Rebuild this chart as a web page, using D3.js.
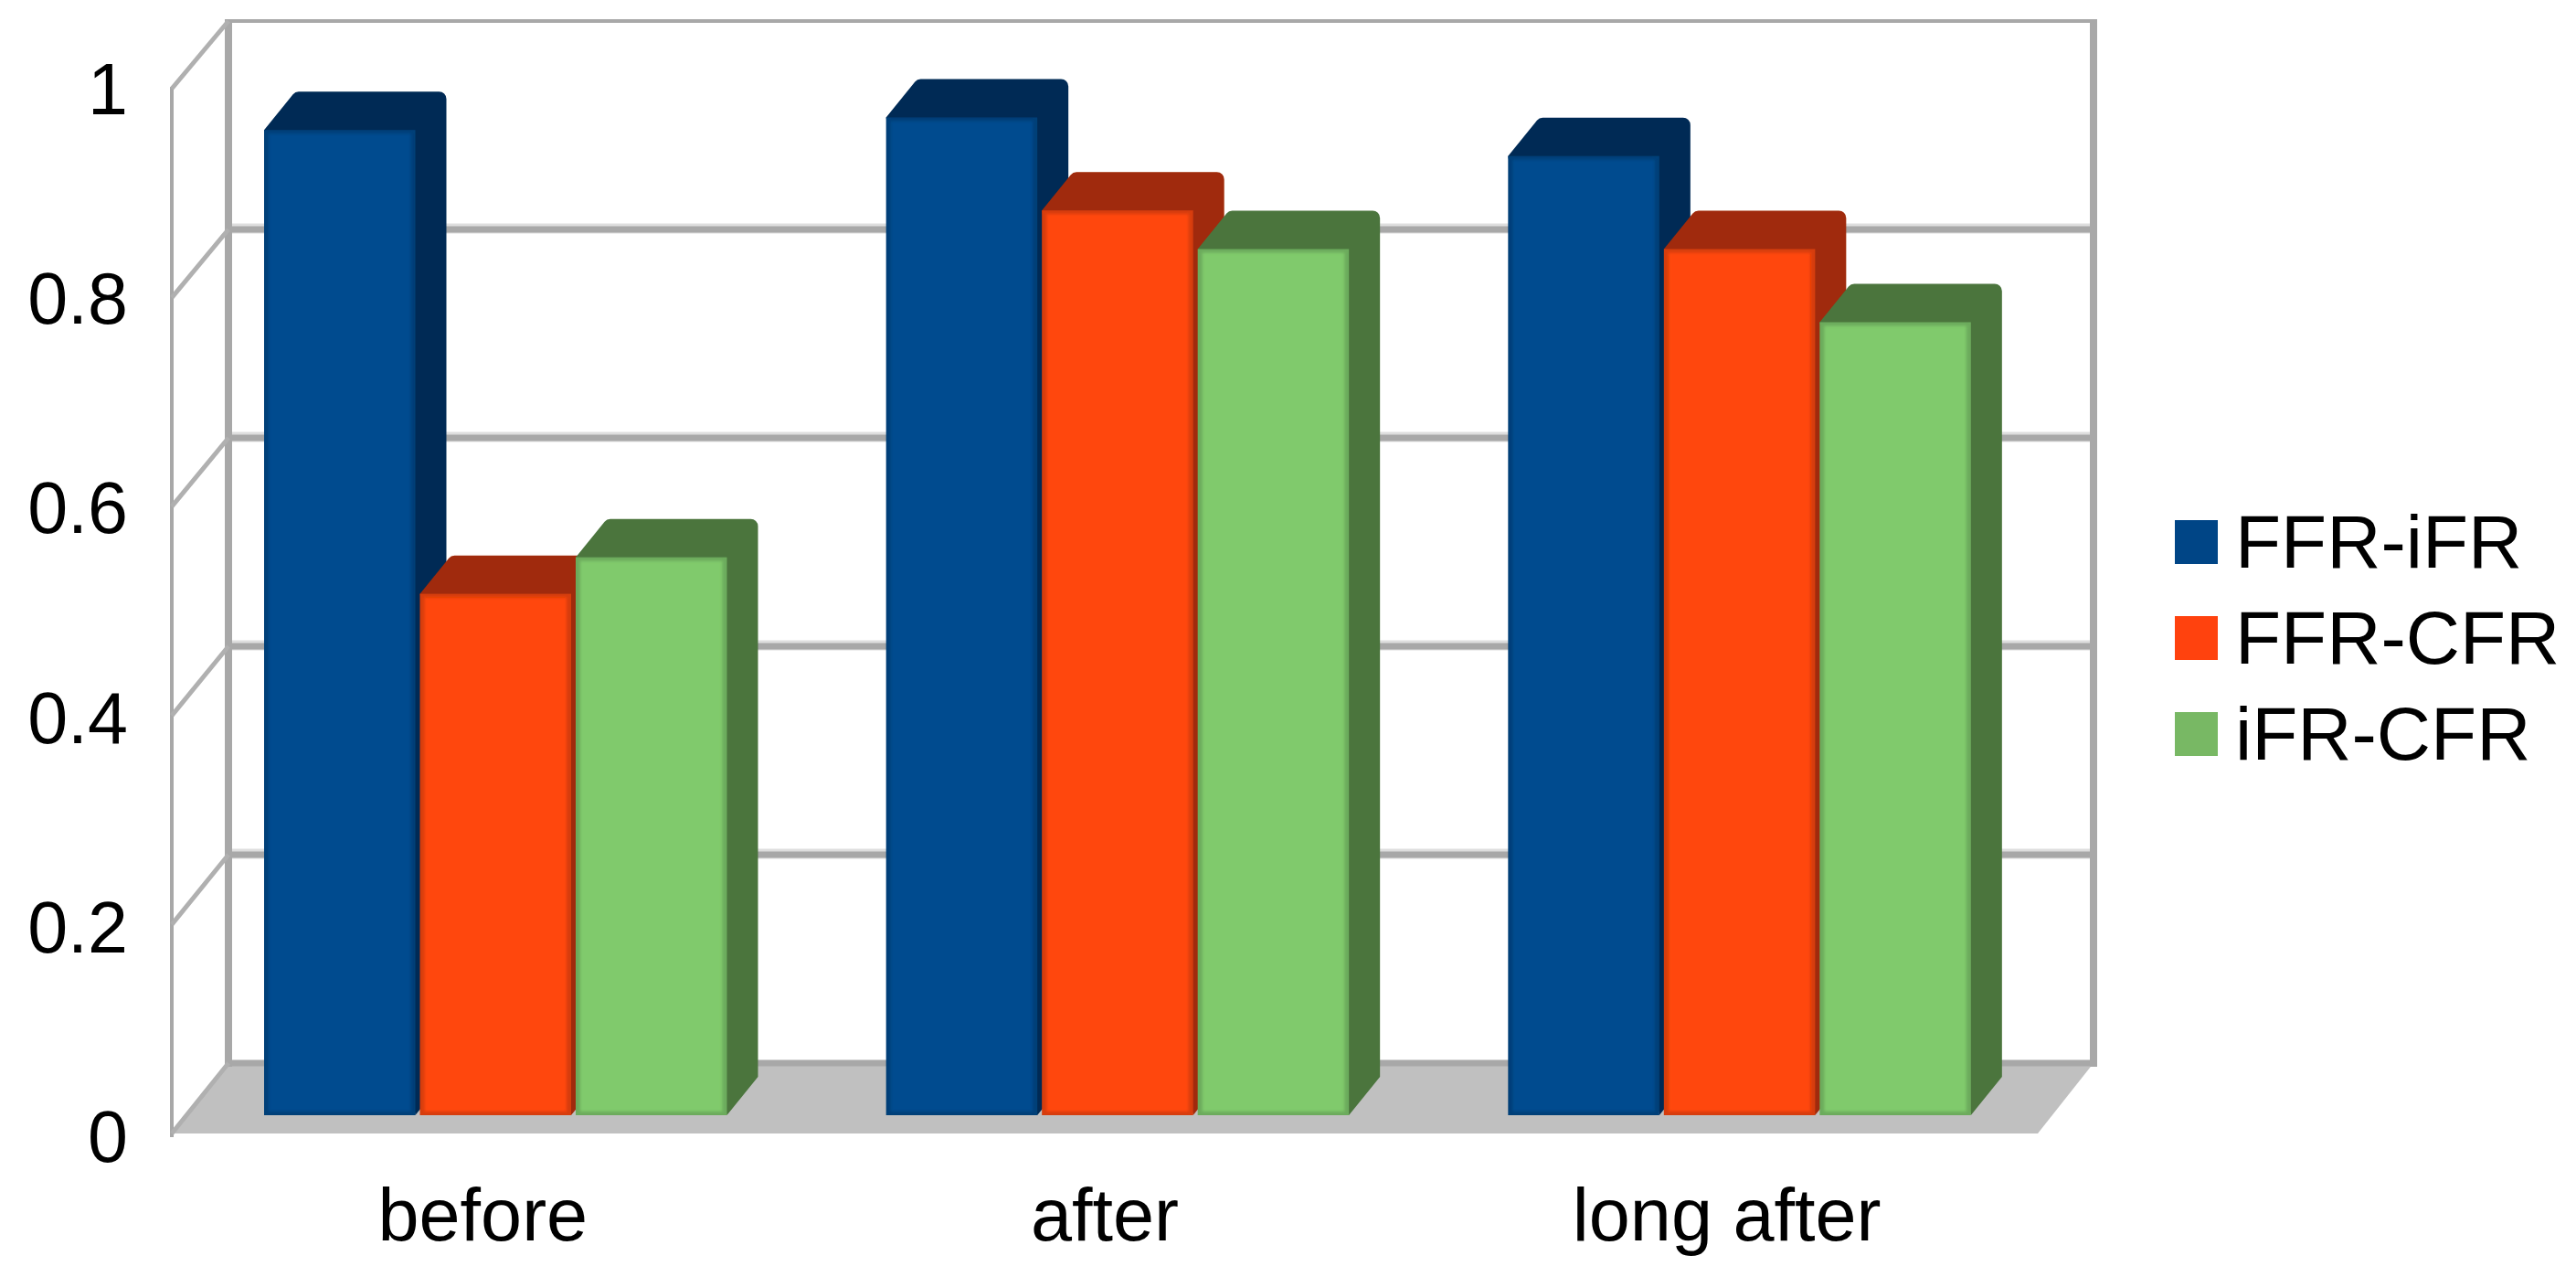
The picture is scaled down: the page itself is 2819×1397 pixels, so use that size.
<!DOCTYPE html>
<html>
<head>
<meta charset="utf-8">
<script src="https://cdn.jsdelivr.net/npm/d3@7/dist/d3.min.js"></script>
<style>
html,body{margin:0;padding:0;background:#fff;}
svg{display:block;}
text{font-family:"Liberation Sans",Arial,sans-serif;fill:#000;}
</style>
</head>
<body>
<script>
// Data
const categories = ["before", "after", "long after"];
const seriesNames = ["FFR-iFR", "FFR-CFR", "iFR-CFR"];
const ffrIfr = [0.943, 0.955, 0.918];
const ffrCfr = [0.499, 0.866, 0.829];
const ifrCfr = [0.534, 0.829, 0.759];
const yTicks = [0, 0.2, 0.4, 0.6, 0.8, 1];

const seriesValues = [ffrIfr, ffrCfr, ifrCfr];

// Styles
const faceColors = ["#004b8f", "#ff470f", "#80ca6c"];
const edgeColors = ["#003f78", "#d63d0b", "#6cab5c"];
const darkColors = ["#002b55", "#a02a08", "#4b753e"];
const swatchColors = ["#004586", "#ff420e", "#78b864"];
const gridColor = "#a8a8a8";

const W = 2819, H = 1397;
const svg = d3.select("body").append("svg").attr("width", W).attr("height", H);

const defs = svg.append("defs");
[["soft", 0.7], ["softer", 1.6]].forEach(([id, sd]) => {
  defs.append("filter").attr("id", id)
    .attr("filterUnits", "userSpaceOnUse")
    .attr("x", 0).attr("y", 0).attr("width", W).attr("height", H)
    .append("feGaussianBlur").attr("stdDeviation", sd);
});

// Scales: front plane of the box, back wall, and the plane of the bar faces
const xBand = d3.scaleBand().domain(categories).range([188, 2230]);
const xBar = d3.scaleBand().domain(seriesNames).range([101, 612.5]);
const yFront = d3.scaleLinear().domain([0, 1]).range([1240, 97]);
const yBack = d3.scaleLinear().domain([0, 1]).range([1163, 23]);
const yBar = d3.scaleLinear().domain([0, 1]).range([1220, 77]);
const yLabel = d3.scaleLinear().domain([0, 1]).range([1271, 125]);

const frontLeft = 188, backLeft = 250, backRight = 2291, frontRight = 2230;
const depthX = 34, depthY = 42, barGap = 5, cornerR = 8;

const marks = svg.append("g").attr("filter", "url(#soft)");

// Floor
marks.append("polygon")
  .attr("points", [[frontLeft, yFront(0)], [backLeft, yBack(0)], [backRight, yBack(0)], [frontRight, yFront(0)]].join(" "))
  .attr("fill", "#c0c0c0");

// Back wall grid lines
const grid = marks.append("g");
grid.selectAll("line.halo").data(yTicks.filter(t => t > 0 && t < 1)).join("line")
  .attr("x1", backLeft).attr("x2", backRight)
  .attr("y1", d => yBack(d) - 1).attr("y2", d => yBack(d) - 1)
  .attr("stroke", "#dedede").attr("stroke-width", 11);
grid.selectAll("line.main").data(yTicks).join(enter => enter.append("line"))
  .attr("class", "main")
  .attr("x1", backLeft).attr("x2", backRight)
  .attr("y1", d => yBack(d)).attr("y2", d => yBack(d))
  .attr("stroke", gridColor)
  .attr("stroke-width", d => d === 1 ? 4 : 7);

// Back wall verticals
[backLeft, backRight].forEach(x => {
  marks.append("line")
    .attr("x1", x).attr("x2", x)
    .attr("y1", yBack(1) - 2).attr("y2", yBack(0) + 4)
    .attr("stroke", gridColor).attr("stroke-width", 8);
});

// Left side wall
marks.append("line")
  .attr("x1", frontLeft).attr("x2", frontLeft)
  .attr("y1", yFront(1) - 2).attr("y2", yFront(0) + 4)
  .attr("stroke", gridColor).attr("stroke-width", 4);
marks.selectAll("line.diag").data(yTicks).join(enter => enter.append("line"))
  .attr("class", "diag")
  .attr("x1", frontLeft).attr("y1", d => yFront(d))
  .attr("x2", backLeft).attr("y2", d => yBack(d))
  .attr("stroke", "#b0b0b0").attr("stroke-width", 5);

// Bars, left to right so later ones overlap earlier depth faces
categories.forEach((cat, ci) => {
  seriesNames.forEach((name, si) => {
    const v = seriesValues[si][ci];
    const x0 = xBand(cat) + xBar(name);
    const x1 = x0 + xBar.bandwidth() - barGap;
    const top = yBar(v), bottom = yBar(0);
    const g = marks.append("g");
    const p = d3.path();
    p.moveTo(x0, top);
    p.lineTo(x0 + depthX - 4, top - depthY + 5);
    p.arcTo(x0 + depthX, top - depthY, x0 + depthX + cornerR, top - depthY, cornerR);
    p.arcTo(x1 + depthX, top - depthY, x1 + depthX, top - depthY + cornerR, cornerR);
    p.lineTo(x1 + depthX, bottom - depthY);
    p.lineTo(x1, bottom);
    p.closePath();
    g.append("path").attr("d", p.toString()).attr("fill", darkColors[si]);
    g.append("rect")
      .attr("x", x0).attr("y", top)
      .attr("width", x1 - x0).attr("height", bottom - top)
      .attr("fill", edgeColors[si]);
    g.append("rect")
      .attr("x", x0 + 5).attr("y", top + 4)
      .attr("width", x1 - x0 - 10).attr("height", bottom - top - 8)
      .attr("fill", faceColors[si])
      .attr("filter", "url(#softer)");
  });
});

// Y tick labels
svg.append("g").selectAll("text").data(yTicks).join("text")
  .attr("x", 140)
  .attr("y", d => yLabel(d))
  .attr("text-anchor", "end")
  .attr("font-size", 79)
  .text(d => d3.format("~g")(d));

// X labels
svg.append("g").selectAll("text").data(categories).join("text")
  .attr("x", d => xBand(d) + xBand.bandwidth() / 2)
  .attr("y", 1357)
  .attr("text-anchor", "middle")
  .attr("font-size", 81)
  .text(d => d);

// Legend
const yLegend = d3.scalePoint().domain(seriesNames).range([593, 803]);
const legend = svg.append("g");
legend.selectAll("rect").data(seriesNames).join("rect")
  .attr("x", 2380)
  .attr("y", d => yLegend(d) - 24)
  .attr("width", 47)
  .attr("height", 48)
  .attr("fill", (d, i) => swatchColors[i]);
legend.selectAll("text").data(seriesNames).join("text")
  .attr("x", 2446)
  .attr("y", d => yLegend(d) + 28)
  .attr("font-size", 82)
  .text(d => d);
</script>
</body>
</html>
